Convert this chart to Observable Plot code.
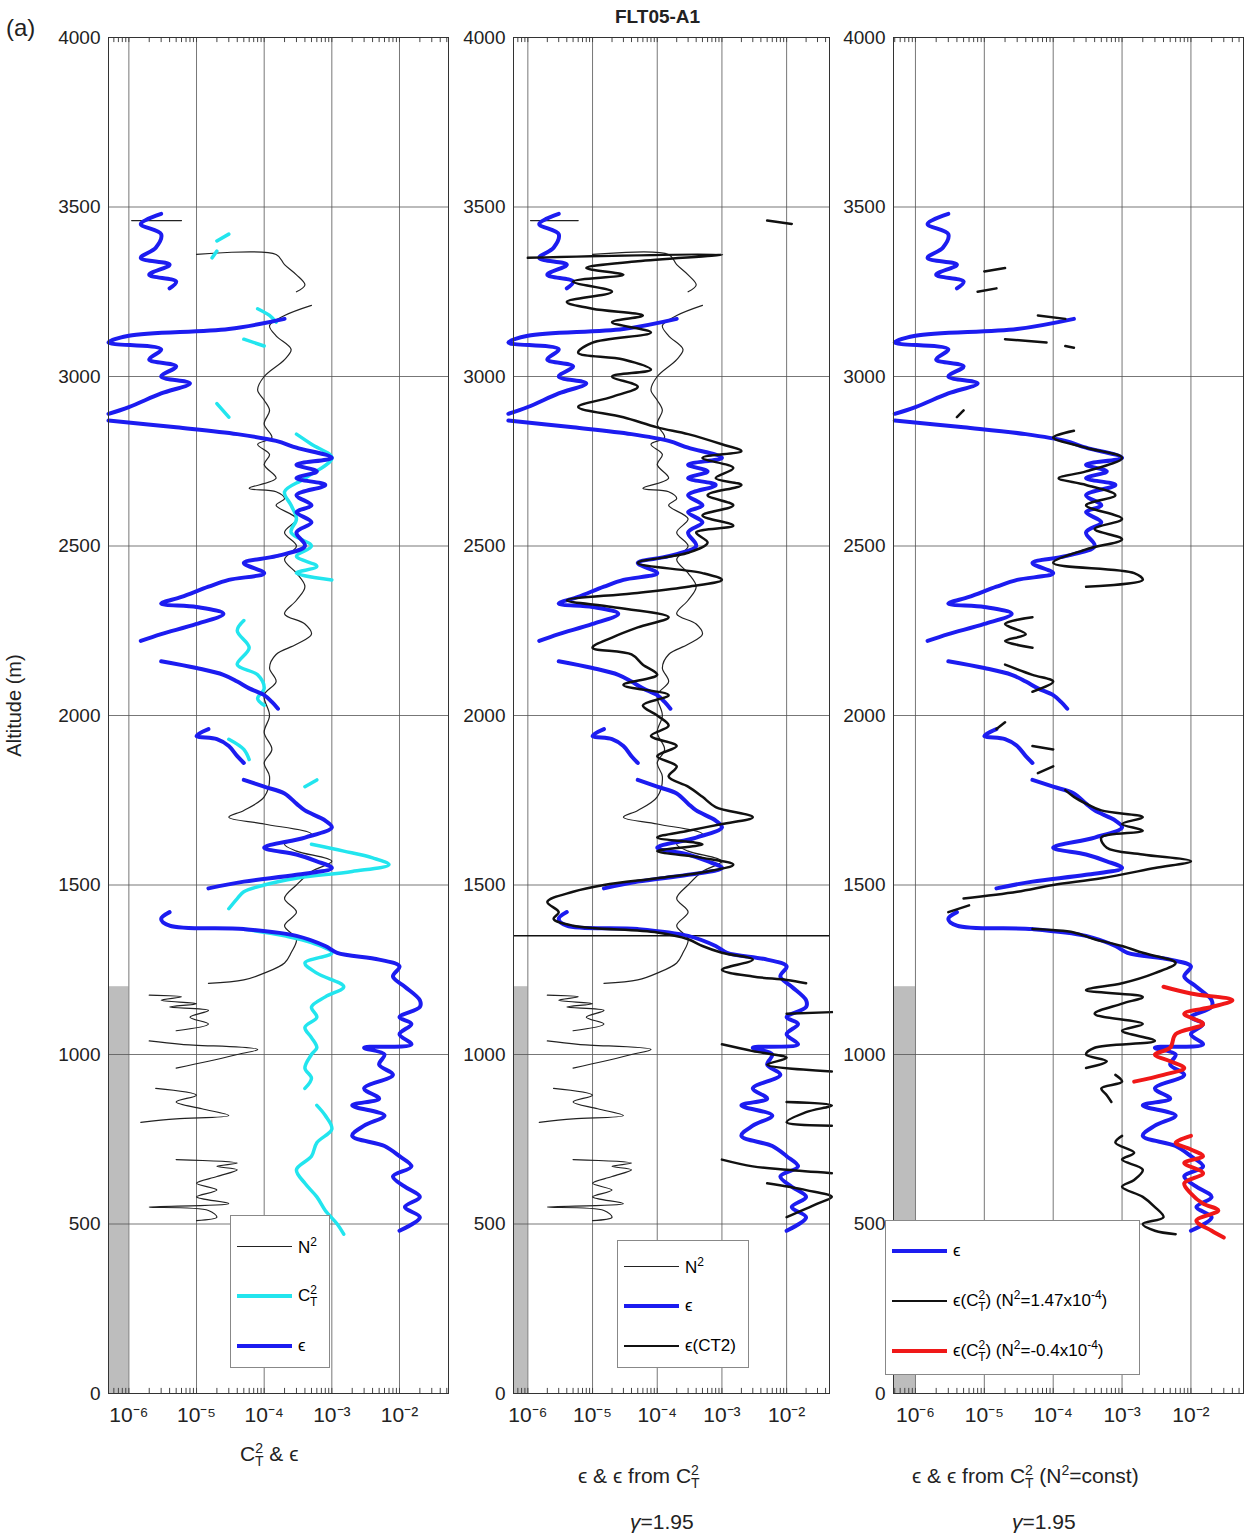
<!DOCTYPE html>
<html lang="en">
<head>
<meta charset="UTF-8">
<script src="https://cdn.jsdelivr.net/npm/d3@7"></script>
<script src="https://cdn.jsdelivr.net/npm/@observablehq/plot@0.6"></script>
<style>
  body { margin: 0; background: #fff; font-family: "Liberation Sans", Arial, sans-serif; }
  #wrap { position: relative; width: 1249px; height: 1538px; }
  .pane { position: absolute; top: 0; }
  .txt { position: absolute; font-size: 21px; color: #222; white-space: nowrap; }
  .legend { position: absolute; background: #fff; border: 1px solid #888; font-size: 17px; box-sizing: border-box; }
  .legend div { display: flex; align-items: center; padding-left: 6px; }
  .legend span.l { display: inline-block; width: 55px; margin-right: 6px; }
</style>
</head>
<body>
<div id="wrap">
  <div class="txt" style="left:6px;top:14px;font-size:24px">(a)</div>
  <div class="txt" style="left:615px;top:6px;font-weight:bold;font-size:19px">FLT05-A1</div>
  <div class="txt" style="left:-37px;top:694px;transform:rotate(-90deg);font-size:20px">Altitude (m)</div>
  <div class="txt" style="left:240px;top:1440px">C<sup style="font-size:14px">2</sup><sub style="font-size:14px;margin-left:-8px">T</sub> &amp; ϵ</div>
  <div class="txt" style="left:578px;top:1462px">ϵ &amp; ϵ from C<sup style="font-size:14px">2</sup><sub style="font-size:14px;margin-left:-8px">T</sub></div>
  <div class="txt" style="left:630px;top:1510px"><i>γ</i>=1.95</div>
  <div class="txt" style="left:912px;top:1462px">ϵ &amp; ϵ from C<sup style="font-size:14px">2</sup><sub style="font-size:14px;margin-left:-8px">T</sub> (N<sup style="font-size:14px">2</sup>=const)</div>
  <div class="txt" style="left:1012px;top:1510px"><i>γ</i>=1.95</div>
</div>
<script>
// altitude (m) / value pairs; [null, null] marks a gap
const epsilon = [
  [3480,3e-6],[3450,1.5e-6],[3420,3e-6],[3380,2.5e-6],[3350,1.5e-6],[3330,4e-6],[3300,2e-6],[3280,5e-6],[3260,4e-6],[null,null],
  [3170,2e-4],[3140,3e-5],[3120,1e-6],[3100,5e-7],[3080,3e-6],[3050,2e-6],[3030,5e-6],[3000,3e-6],[2980,8e-6],[2950,3e-6],[2910,1e-6],[2890,5e-7],[null,null],
  [2870,5e-7],[2850,5e-6],[2830,4e-5],[2810,1.5e-4],[2790,3e-4],[2760,1e-3],[2740,3e-4],[2720,6e-4],[2700,3e-4],[2680,8e-4],[2650,3e-4],[2620,5e-4],[2600,3e-4],[2570,5e-4],[2540,3e-4],[2500,4e-4],[2470,1.5e-4],[2450,5e-5],[2420,1e-4],[2400,3e-5],[2380,1.5e-5],[2350,6e-6],[2330,3e-6],[2320,1e-5],[2300,2.5e-5],[2270,1e-5],[2240,3e-6],[2220,1.5e-6],[null,null],
  [2160,3e-6],[2140,1e-5],[2120,2.5e-5],[2100,4e-5],[2080,6e-5],[2060,1e-4],[2040,1.3e-4],[2020,1.6e-4],[null,null],
  [1960,1.5e-5],[1940,1e-5],[1930,2e-5],[1910,3e-5],[1880,4e-5],[1860,5e-5],[null,null],
  [1810,5e-5],[1790,1e-4],[1770,2e-4],[1740,3e-4],[1720,4e-4],[1690,8e-4],[1670,1e-3],[1640,4e-4],[1610,1e-4],[1590,3e-4],[1570,6e-4],[1550,1e-3],[1530,3e-4],[1510,5e-5],[1490,1.5e-5],[null,null],
  [1420,4e-6],[1400,3e-6],[1380,4e-6],[1370,5e-5],[1350,3e-4],[1320,8e-4],[1300,1.2e-3],[1280,5e-3],[1260,1e-2],[1230,8e-3],[1200,1.2e-2],[1160,2e-2],[1140,2e-2],[1110,1e-2],[1090,1.5e-2],[1060,1e-2],[1030,1.5e-2],[1020,3e-3],[1000,6e-3],[970,5e-3],[940,8e-3],[900,3e-3],[870,5e-3],[850,2e-3],[820,6e-3],[790,3e-3],[760,2e-3],[730,6e-3],[700,1e-2],[670,1.5e-2],[640,8e-3],[610,1.2e-2],[580,2e-2],[550,1.2e-2],[520,2e-2],[480,1e-2]
];
const ct2 = [
  [3420,3e-5],[3400,2e-5],[null,null],[3370,2e-5],[3350,1.7e-5],[null,null],
  [3200,8e-5],[3180,1.2e-4],[3160,1.5e-4],[null,null],[3110,5e-5],[3090,1e-4],[null,null],
  [2920,2e-5],[2880,3e-5],[null,null],
  [2830,3e-4],[2800,5e-4],[2760,1e-3],[2700,4e-4],[2660,2e-4],[2620,2.5e-4],[2580,3e-4],[2540,2.5e-4],[2500,5e-4],[2470,3e-4],[2440,6e-4],[2420,3e-4],[2400,1e-3],[null,null],
  [2280,5e-5],[2250,4e-5],[2200,6e-5],[2150,4e-5],[2120,8e-5],[2080,1e-4],[2050,8e-5],[2030,1e-4],[null,null],
  [1930,3e-5],[1900,5e-5],[1870,6e-5],[null,null],[1810,6e-4],[1790,4e-4],[null,null],
  [1620,5e-4],[1600,1.5e-3],[1580,4e-3],[1560,7e-3],[1540,2e-3],[1520,3e-4],[1500,1e-4],[1480,5e-5],[1460,4e-5],[1430,3e-5],[null,null],
  [1370,5e-5],[1350,2e-4],[1330,5e-4],[1300,1e-3],[1270,4e-4],[1240,6e-4],[1200,1.5e-3],[1170,8e-4],[1140,5e-4],[1110,6e-4],[1080,4e-4],[1050,5e-4],[1020,6e-4],[1000,5e-4],[960,4e-4],[930,5e-4],[900,4e-4],[null,null],
  [850,6e-4],[820,8e-4],[780,1e-3],[740,6e-4],[700,5e-4],[660,3e-4],[620,4e-4],[580,6e-4],[540,8e-4],[500,1.2e-3],[470,1.5e-3]
];
const n2 = [
  [3460,1.1e-6],[3460,6e-6],[null,null],
  [3360,1e-5],[3360,1.5e-4],[3330,2e-4],[3300,3e-4],[3270,4e-4],[3250,3e-4],[null,null],
  [3210,5e-4],[3180,2e-4],[3150,1.2e-4],[3120,1.5e-4],[3080,2.5e-4],[3050,2e-4],[3000,1e-4],[2960,8e-5],[2930,1e-4],[2900,1.2e-4],[2860,1e-4],[2820,1.3e-4],[2800,8e-5],[2770,1.2e-4],[2740,1e-4],[2700,1.5e-4],[2670,6e-5],[2660,1.5e-4],[2640,2e-4],[2620,1.5e-4],[2580,3e-4],[2540,2e-4],[2500,3e-4],[2460,2e-4],[2420,3e-4],[2380,4e-4],[2340,3e-4],[2300,2e-4],[2270,4e-4],[2240,5e-4],[2210,3e-4],[2180,1.5e-4],[2140,1.2e-4],[2100,1.5e-4],[2060,1e-4],[2000,1.2e-4],[1950,1e-4],[1900,1.3e-4],[1860,1e-4],[1820,1.2e-4],[1760,1e-4],[1720,5e-5],[1700,3e-5],[1680,1e-4],[1650,5e-4],[1620,2e-4],[1600,3e-4],[1570,1e-3],[1540,5e-4],[1500,3e-4],[1460,2e-4],[1420,3e-4],[1380,2e-4],[1340,3e-4],[1300,2.5e-4],[1270,2e-4],[1240,1e-4],[1220,5e-5],[1210,1.5e-5],[null,null],
  [1175,2e-6],[1170,6e-6],[1160,3e-6],[1150,1e-5],[1140,4e-6],[1130,1.5e-5],[1110,8e-6],[1090,1.5e-5],[1070,5e-6],[null,null],
  [1040,2e-6],[1030,6e-6],[1015,8e-5],[1000,4e-5],[980,1.5e-5],[960,5e-6],[null,null],
  [900,2.5e-6],[880,1e-5],[860,5e-6],[840,1.2e-5],[820,3e-5],[810,5e-6],[800,1.5e-6],[null,null],
  [690,5e-6],[680,4e-5],[670,2e-5],[660,4e-5],[640,2e-5],[620,1e-5],[600,2e-5],[580,1e-5],[560,3e-5],[550,2e-6],[540,1.5e-5],[520,2e-5],[510,1e-5]
];
const epsCT2 = [
  [3460,5e-3],[3450,1.2e-2],[null,null],
  [3350,1e-6],[3360,1e-3],[3340,5e-5],[3320,8e-6],[3300,3e-5],[3280,5e-6],[3250,2e-5],[3220,4e-6],[3200,1e-5],[3180,6e-5],[3160,2e-5],[3130,8e-5],[3100,1e-5],[3070,6e-6],[3050,3e-5],[3020,8e-5],[3000,2e-5],[2970,5e-5],[2940,2e-5],[2910,6e-6],[2880,3e-5],[2850,1e-4],[2830,3e-4],[2800,1e-3],[2780,2e-3],[2760,5e-4],[2730,1.5e-3],[2700,8e-4],[2680,2e-3],[2650,6e-4],[2620,1.5e-3],[2590,5e-4],[2560,1.5e-3],[2540,4e-4],[2510,6e-4],[2480,3e-4],[2450,5e-5],[2420,5e-4],[2400,1e-3],[2380,3e-4],[2360,4e-5],[2340,4e-6],[2320,2e-5],[2290,1.5e-4],[2260,5e-5],[2230,2e-5],[2200,1e-5],[2180,4e-5],[2150,6e-5],[2120,1e-4],[2090,3e-5],[2060,1.5e-4],[2030,6e-5],[2000,1e-4],[1970,1.5e-4],[1940,8e-5],[1910,2e-4],[1880,1e-4],[1850,2e-4],[1820,1.5e-4],[1790,3e-4],[1760,5e-4],[1730,8e-4],[1700,3e-3],[1680,1e-3],[1660,3e-4],[1640,1e-4],[1620,5e-4],[1600,1e-4],[1580,5e-4],[1560,1.5e-3],[1540,6e-4],[1520,1e-4],[1500,1.5e-5],[1480,5e-6],[1450,2e-6],[1420,3e-6],[1400,2.5e-6],[1380,5e-6],[1360,1e-4],[1340,3e-4],[1320,5e-4],[1300,1e-3],[1280,3e-3],[1250,1e-3],[1230,3e-3],[1220,1e-2],[1210,2e-2],[null,null],
  [1120,1e-2],[1125,5e-2],[null,null],
  [1030,1e-3],[1010,3e-3],[990,1e-2],[970,5e-3],[950,5e-2],[null,null],
  [860,1e-2],[850,5e-2],[830,2e-2],[800,1e-2],[790,5e-2],[null,null],
  [690,1e-3],[670,3e-3],[660,1e-2],[650,5e-2],[null,null],
  [620,5e-3],[600,2e-2],[580,5e-2],[560,3e-2],[520,1e-2]
];
const epsConst = [
  [3320,2e-5],[3310,1e-5],[null,null],[3260,1.5e-5],[3250,8e-6],[null,null],
  [3180,6e-5],[3170,1.5e-4],[null,null],[3110,2e-5],[3100,8e-5],[null,null],[3090,1.5e-4],[3085,2e-4],[null,null],
  [2900,5e-6],[2880,4e-6],[null,null],
  [2840,2e-4],[2820,1e-4],[2790,3e-4],[2760,1e-3],[2720,3e-4],[2700,1.2e-4],[2680,3e-4],[2650,8e-4],[2620,3e-4],[2580,1e-3],[2550,4e-4],[2520,1e-3],[2490,3e-4],[2450,1e-4],[2420,1.5e-3],[2400,2e-3],[2380,3e-4],[null,null],
  [2290,5e-5],[2270,2e-5],[2240,4e-5],[2220,2e-5],[2200,5e-5],[null,null],
  [2150,2e-5],[2120,5e-5],[2100,1e-4],[2070,5e-5],[null,null],
  [1980,2e-5],[1960,1.5e-5],[null,null],[1910,5e-5],[1900,1e-4],[null,null],[1850,1e-4],[1830,6e-5],[null,null],
  [1780,1.5e-4],[1760,2e-4],[1740,3e-4],[1720,5e-4],[1700,2e-3],[1680,1e-3],[1660,2e-3],[1640,5e-4],[1610,6e-4],[1590,2e-3],[1570,1e-2],[1550,3e-3],[1520,5e-4],[1500,1e-4],[1480,3e-5],[1460,5e-6],[null,null],
  [1440,6e-6],[1420,3e-6],[null,null],
  [1370,5e-5],[1360,2e-4],[1340,4e-4],[1320,1e-3],[1300,2e-3],[1270,6e-3],[1240,3e-3],[1210,1e-3],[1190,3e-4],[1170,2e-3],[1150,1e-3],[1120,4e-4],[1090,2e-3],[1070,1e-3],[1040,3e-3],[1020,4e-4],[1000,3e-4],[980,6e-4],[960,3e-4],[null,null],
  [940,8e-4],[920,1e-3],[900,5e-4],[880,6e-4],[860,7e-4],[null,null],
  [760,1e-3],[740,8e-4],[710,1.5e-3],[690,1e-3],[660,2e-3],[630,1.5e-3],[610,1e-3],[580,2e-3],[550,3e-3],[520,4e-3],[500,2e-3],[480,3e-3],[470,6e-3]
];
const epsNeg = [
  [1200,4e-3],[1180,1e-2],[1160,4e-2],[1140,2e-2],[1120,8e-3],[1090,1.5e-2],[1060,6e-3],[1020,5e-3],[1000,3e-3],[980,5e-3],[960,8e-3],[940,4e-3],[920,1.5e-3],[null,null],
  [760,1e-2],[740,6e-3],[720,1e-2],[700,1.5e-2],[680,8e-3],[650,1.5e-2],[620,8e-3],[590,1e-2],[560,1.5e-2],[540,2.5e-2],[510,1.2e-2],[480,2e-2],[460,3e-2]
];
const decades = [1e-6, 1e-5, 1e-4, 1e-3, 1e-2];
const altTicks = d3.range(0, 4001, 500);

const sup = {"-": "⁻", "0": "⁰", "1": "¹", "2": "²", "3": "³", "4": "⁴", "5": "⁵", "6": "⁶", "7": "⁷", "8": "⁸", "9": "⁹"};
const fmt = d => "10" + String(Math.round(Math.log10(d))).split("").map(c => sup[c]).join("");
const rows = p => p.map(([a, v]) => ({a, v}));

function panel({left, width, mLeft, mRight, domain, series, extra = []}) {
  const minor = [];
  for (let e = -7; e < 0; e++) for (let k = 1; k < 10; k++) {
    const v = k * 10 ** e;
    if (v >= domain[0] && v <= domain[1]) minor.push(v);
  }
  const p = Plot.plot({
    width, height: 1453,
    marginLeft: mLeft, marginRight: mRight, marginTop: 37, marginBottom: 60,
    style: {fontFamily: "Liberation Sans, Arial, sans-serif", fontSize: "19px", color: "#222", background: "transparent"},
    x: {type: "log", domain},
    y: {domain: [0, 4000]},
    marks: [
      Plot.rect([0], {x1: domain[0], x2: 1e-6, y1: 0, y2: 1200, fill: "#bdbdbd"}),
      Plot.gridX(decades, {stroke: "#555", strokeOpacity: 0.8}),
      Plot.gridY(altTicks, {stroke: "#555", strokeOpacity: 0.8}),
      Plot.ruleX(minor, {y1: 3985, y2: 4000, stroke: "#444"}),
      Plot.ruleX(minor, {y1: 0, y2: 15, stroke: "#444"}),
      Plot.axisX(decades, {tickFormat: fmt, tickSize: 0, tickPadding: 14, label: null, fontSize: 21}),
      Plot.axisY(altTicks, {tickFormat: d3.format("d"), tickSize: 0, tickPadding: 8, label: null, fontSize: 19}),
      ...extra,
      ...series.map(s => Plot.line(rows(s.data), {x: "v", y: "a", stroke: s.color, strokeWidth: s.w, curve: "catmull-rom"})),
      Plot.frame({stroke: "#333"})
    ]
  });
  const d = document.createElement("div");
  d.className = "pane";
  d.style.left = left + "px";
  d.append(p);
  document.getElementById("wrap").append(d);
}

panel({left: 0, width: 460, mLeft: 108, mRight: 12, domain: [5e-7, 0.053],
  series: [{data: n2, color: "#222", w: 1.2}, {data: ct2, color: "#22e5ee", w: 3.5}, {data: epsilon, color: "#1c1cf0", w: 4}]});
panel({left: 460, width: 379, mLeft: 53, mRight: 10, domain: [6e-7, 0.046],
  extra: [Plot.ruleY([1350], {stroke: "#111", strokeWidth: 1.5})],
  series: [{data: n2, color: "#222", w: 1.2}, {data: epsilon, color: "#1c1cf0", w: 4}, {data: epsCT2, color: "#111", w: 2.5}]});
panel({left: 840, width: 409, mLeft: 53, mRight: 6, domain: [4.8e-7, 0.058],
  series: [{data: epsilon, color: "#1c1cf0", w: 4}, {data: epsConst, color: "#111", w: 2.5}, {data: epsNeg, color: "#f01818", w: 4}]});

const wrap = document.getElementById("wrap");
function legend(x, y, w, h, rowH, items) {
  const box = document.createElement("div");
  box.className = "legend";
  Object.assign(box.style, {left: x + "px", top: y + "px", width: w + "px", height: h + "px", paddingTop: "5px"});
  for (const [color, width, label] of items) {
    const r = document.createElement("div");
    r.style.height = rowH + "px";
    r.innerHTML = `<span class="l" style="border-top:${width}px solid ${color}"></span><span>${label}</span>`;
    box.append(r);
  }
  wrap.append(box);
}
const CT = 'C<sup style="font-size:12px">2</sup><sub style="font-size:12px;margin-left:-7px">T</sub>';
const N2 = "N<sup style='font-size:12px'>2</sup>";
legend(230, 1215, 100, 153, 50, [["#222", 1.2, N2], ["#22e5ee", 4, CT], ["#1c1cf0", 4, "ϵ"]]);
legend(617, 1240, 132, 128, 40, [["#222", 1.2, N2], ["#1c1cf0", 4, "ϵ"], ["#111", 2.5, "ϵ(CT2)"]]);
legend(885, 1220, 255, 155, 50, [["#1c1cf0", 4, "ϵ"], ["#111", 2.5, "ϵ(" + CT + ") (" + N2 + "=1.47x10<sup style='font-size:12px'>-4</sup>)"], ["#f01818", 4, "ϵ(" + CT + ") (" + N2 + "=-0.4x10<sup style='font-size:12px'>-4</sup>)"]]);
</script>
</body>
</html>
